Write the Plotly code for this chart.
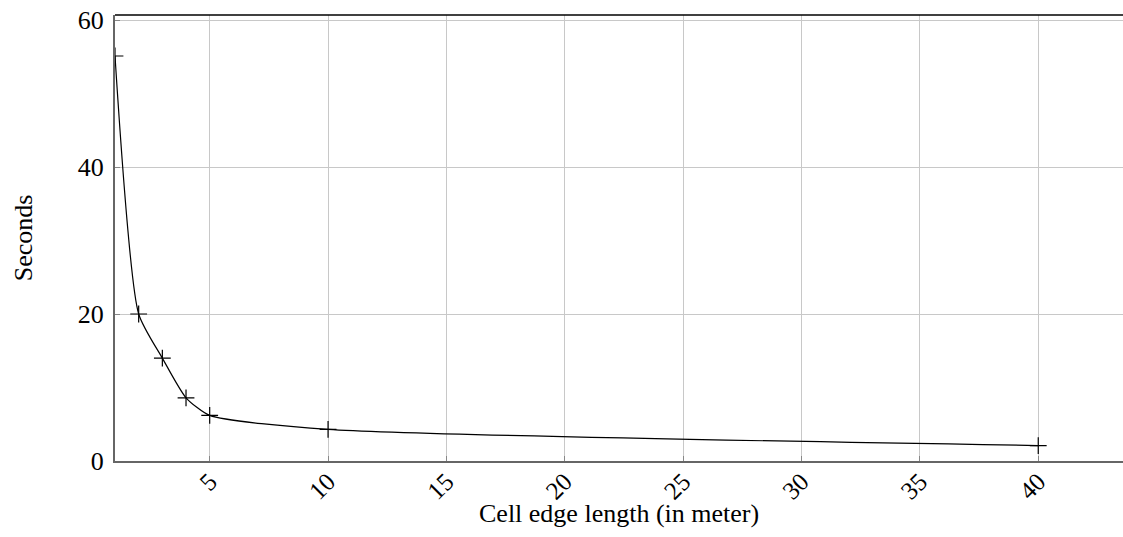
import plotly.graph_objects as go

cell_edge = [1, 2, 3, 4, 5, 10, 40]
seconds = [55.1, 20.0, 14.0, 8.6, 6.2, 4.3, 2.1]
x_ticks = [5, 10, 15, 20, 25, 30, 35, 40]
y_ticks = [0, 20, 40, 60]
x_title = "Cell edge length (in meter)"
y_title = "Seconds"

font_family = "Liberation Serif"

fig = go.Figure()
fig.add_trace(go.Scatter(
    x=cell_edge, y=seconds,
    mode="lines+markers",
    line=dict(color="black", width=1.2, shape="spline", smoothing=0.6),
    marker=dict(symbol="cross-thin", size=12, line=dict(color="black", width=1.2)),
    showlegend=False,
))

fig.update_layout(
    width=1123, height=537,
    margin=dict(l=115, r=0, t=15, b=76),
    paper_bgcolor="white", plot_bgcolor="white",
    font=dict(family=font_family, color="black"),
    xaxis=dict(
        range=[1, 43.58],
        tickvals=x_ticks,
        ticktext=[str(v) for v in x_ticks],
        tickangle=-45,
        tickfont=dict(size=25, family=font_family),
        ticklabelstandoff=-6,
        ticklabeloverflow="allow",
        automargin=False,
        showgrid=True, gridcolor="#c8c8c8", gridwidth=1,
        showline=True, linecolor="#666666", linewidth=2,
        ticks="inside", ticklen=5, tickcolor="#888888",
        zeroline=False,
    ),
    yaxis=dict(
        range=[0, 60.68],
        tickvals=y_ticks,
        tickfont=dict(size=26, family=font_family),
        ticklabelstandoff=4,
        ticklabeloverflow="allow",
        automargin=False,
        showgrid=True, gridcolor="#c8c8c8", gridwidth=1,
        showline=True, linecolor="#666666", linewidth=2,
        ticks="inside", ticklen=5, tickcolor="#888888",
        zeroline=False,
        title=dict(text=y_title, font=dict(size=26, family=font_family), standoff=38),
    ),
)

fig.add_annotation(text=x_title, xref="paper", yref="paper", x=0.5, y=-0.117,
                   xanchor="center", yanchor="middle", showarrow=False,
                   font=dict(size=26, family=font_family, color="black"))

fig.add_shape(type="line", xref="paper", yref="paper", x0=0, x1=1, y0=1, y1=1,
              line=dict(color="black", width=1.5))

fig.write_html("out.html",
               config={"displayModeBar": False},
               post_script="document.body.style.margin='0';document.body.style.overflow='hidden';")
